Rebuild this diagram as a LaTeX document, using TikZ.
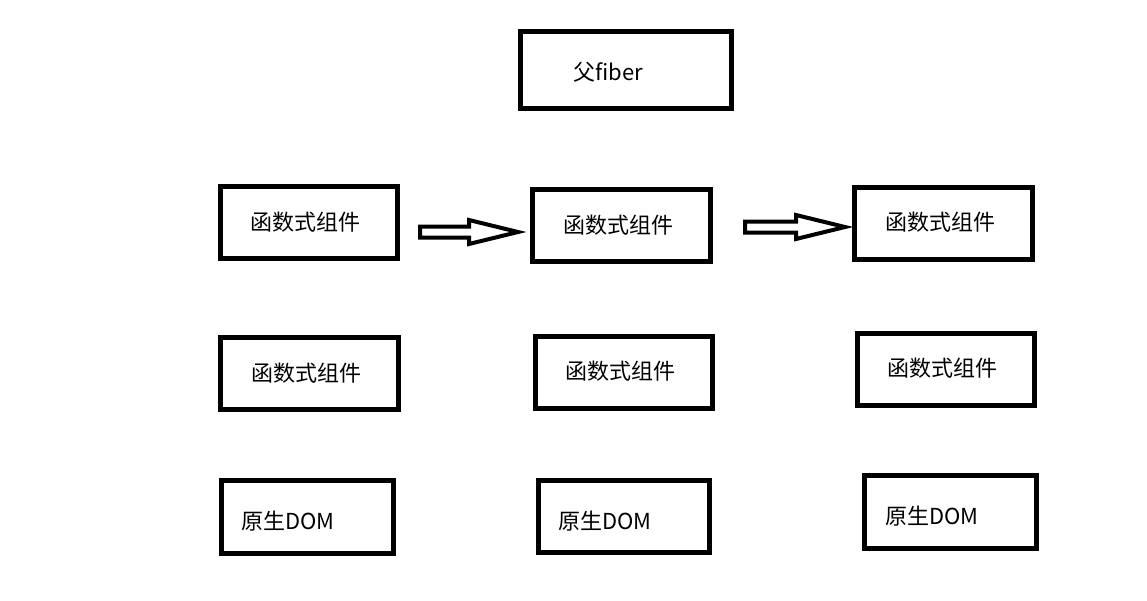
\documentclass[tikz,border=0pt]{standalone}
\usepackage{fontspec}
\setmainfont{Noto Sans CJK SC}
\usetikzlibrary{calc}
\begin{document}
\begin{tikzpicture}[x=1pt,y=-1pt,
  box/.style={draw=black, line width=4.8pt, rectangle, inner sep=0pt, outer sep=0pt},
  txt/.style={anchor=west, inner sep=0pt, font=\fontsize{22}{26}\selectfont},
  hollowarrow/.style={draw=black, line width=4pt, line join=miter, to path={
    ($(\tikztostart)+(0,-5.5)$) -- ($(\tikztotarget)+(-49,-5.5)$) -- ($(\tikztotarget)+(-49,-12)$)
    -- (\tikztotarget) -- ($(\tikztotarget)+(-49,12)$) -- ($(\tikztotarget)+(-49,5.5)$)
    -- ($(\tikztostart)+(0,5.5)$) -- cycle}}]
\useasboundingbox[fill=white] (0,0) rectangle (1147,600);

% boxes
\node[box, minimum width=211pt, minimum height=77pt] (top) at (626,70) {};
\node[box, minimum width=177pt, minimum height=72pt] (r1a) at (309,222.5) {};
\node[box, minimum width=178pt, minimum height=72pt] (r1b) at (621.5,225.5) {};
\node[box, minimum width=178pt, minimum height=72pt] (r1c) at (943.5,223.5) {};
\node[box, minimum width=178pt, minimum height=72pt] (r2a) at (309.5,373.5) {};
\node[box, minimum width=177pt, minimum height=72pt] (r2b) at (624,372.5) {};
\node[box, minimum width=177pt, minimum height=72pt] (r2c) at (946,369.5) {};
\node[box, minimum width=172pt, minimum height=73pt] (r3a) at (307.5,517) {};
\node[box, minimum width=171pt, minimum height=72pt] (r3b) at (624,516.5) {};
\node[box, minimum width=172pt, minimum height=73pt] (r3c) at (950.5,512) {};

% texts
\node[txt] (ttop) at (573,72) {父fiber};
\node[txt] (t1a) at (250,222) {函数式组件};
\node[txt] (t1b) at (563,225) {函数式组件};
\node[txt] (t1c) at (885,222) {函数式组件};
\node[txt] (t2a) at (251,373) {函数式组件};
\node[txt] (t2b) at (565,371) {函数式组件};
\node[txt] (t2c) at (887,368) {函数式组件};
\node[txt] (t3a) at (241,521) {原生DOM};
\node[txt] (t3b) at (558,521) {原生DOM};
\node[txt] (t3c) at (885,516) {原生DOM};

% arrows
\coordinate (a1s) at (420,232);
\coordinate (a1e) at (518,232);
\coordinate (a2s) at (745,227);
\coordinate (a2e) at (845,227);
\draw[hollowarrow] (a1s) to (a1e);
\draw[hollowarrow] (a2s) to (a2e);
\end{tikzpicture}
\end{document}
